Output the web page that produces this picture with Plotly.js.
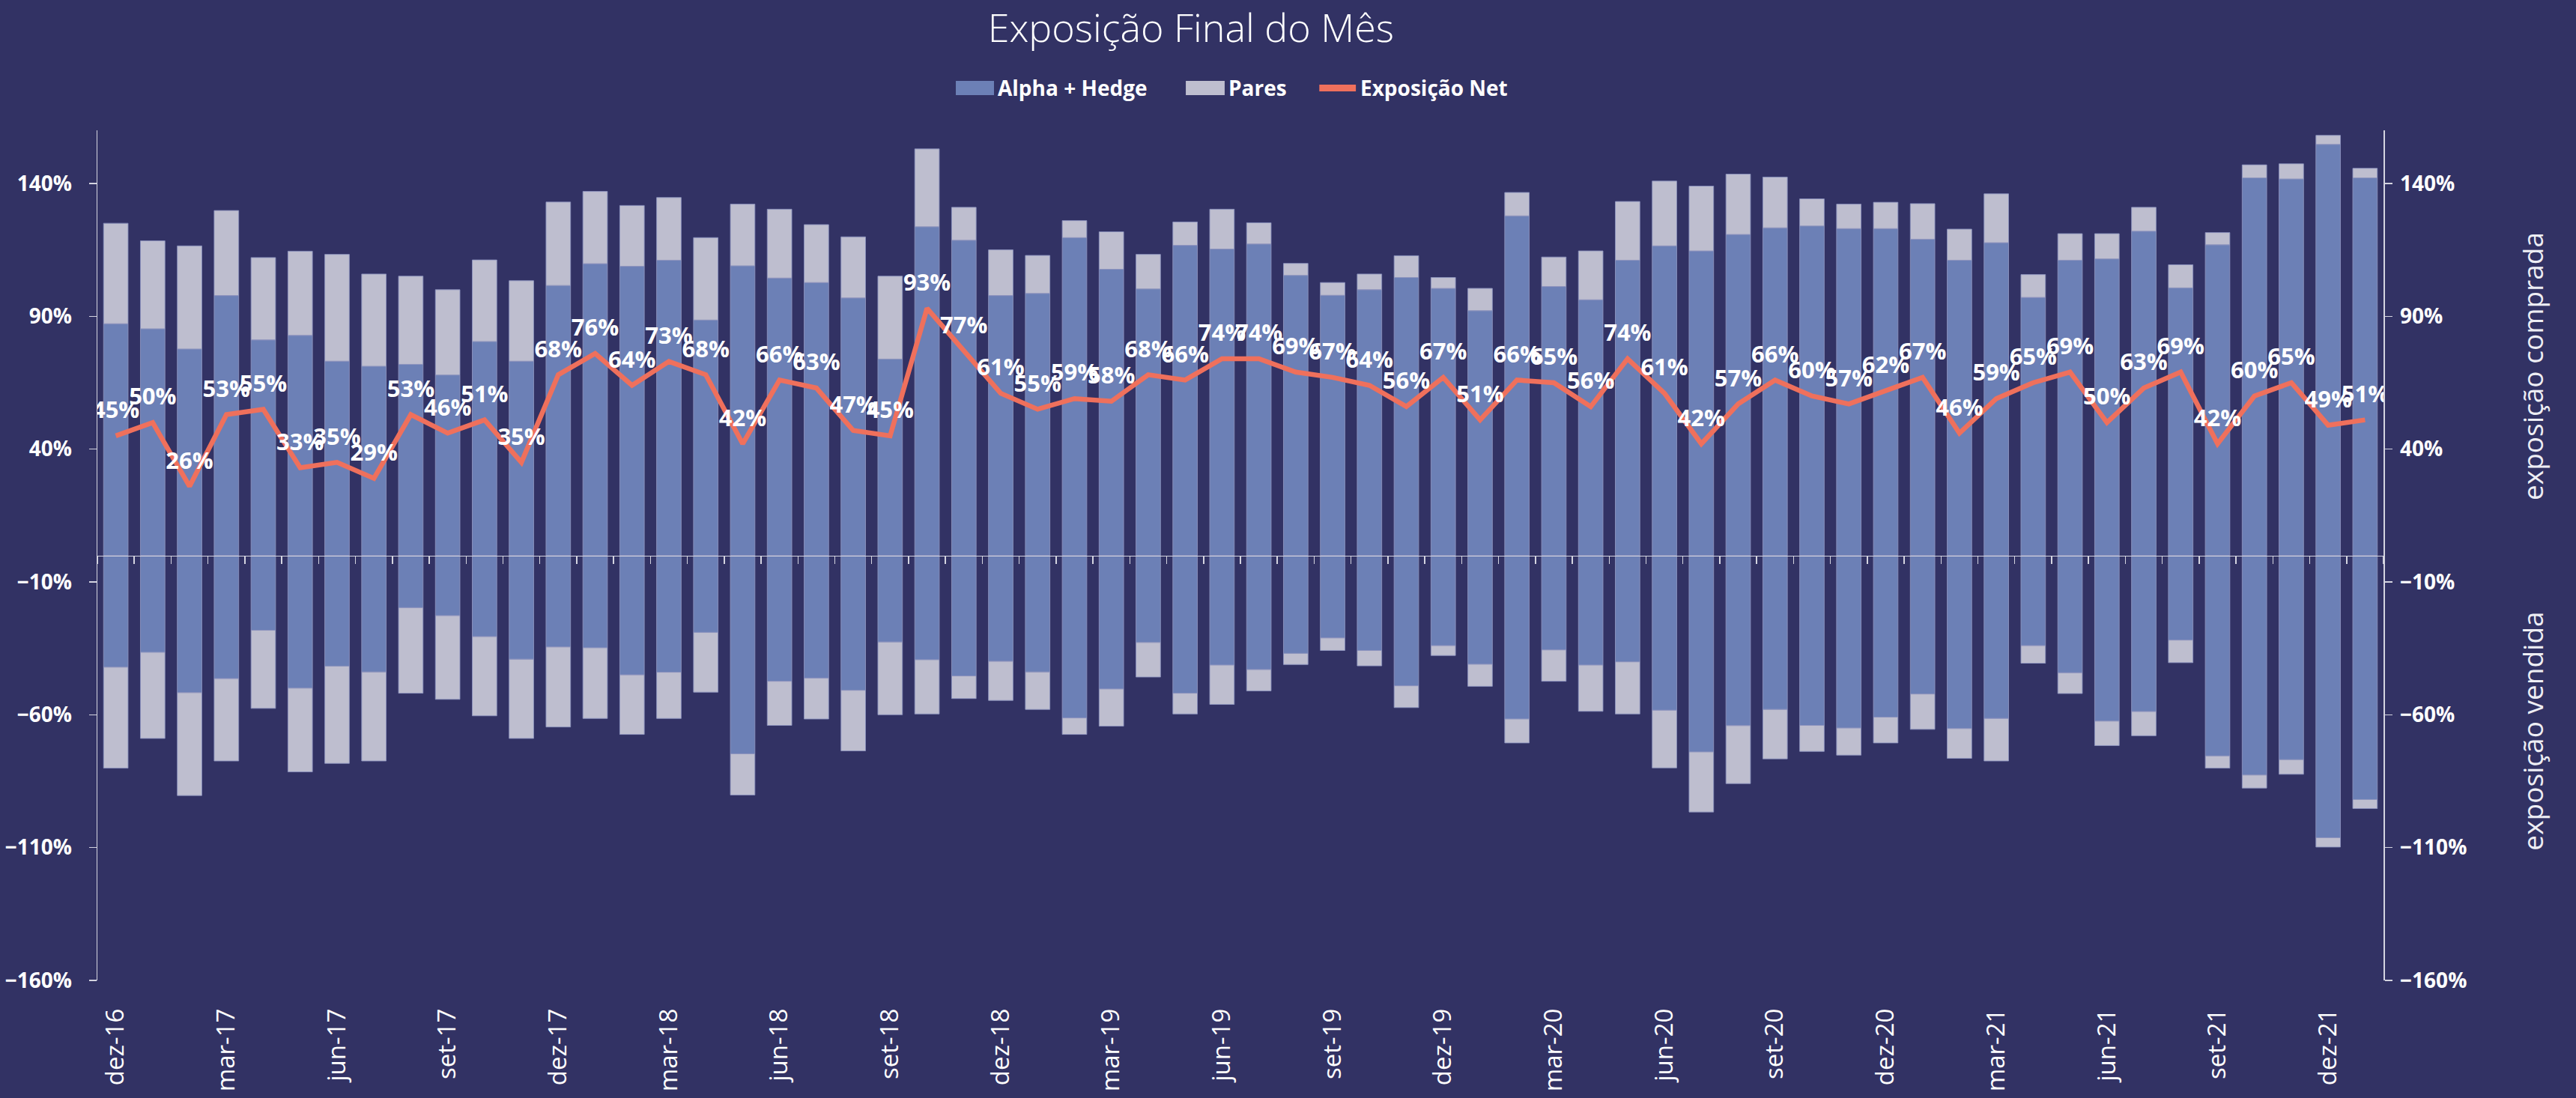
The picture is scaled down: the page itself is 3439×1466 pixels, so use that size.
<!DOCTYPE html>
<html><head><meta charset="utf-8">
<script src="https://cdn.plot.ly/plotly-3.0.1.min.js"></script>
<style>html,body{margin:0;padding:0;background:#323264;} #chart{width:3439px;height:1466px;}</style>
</head><body><div id="chart"></div>
<script>
const months = ['dez-16','jan-17','fev-17','mar-17','abr-17','mai-17','jun-17','jul-17','ago-17','set-17','out-17','nov-17',
  'dez-17','jan-18','fev-18','mar-18','abr-18','mai-18','jun-18','jul-18','ago-18','set-18','out-18','nov-18',
  'dez-18','jan-19','fev-19','mar-19','abr-19','mai-19','jun-19','jul-19','ago-19','set-19','out-19','nov-19',
  'dez-19','jan-20','fev-20','mar-20','abr-20','mai-20','jun-20','jul-20','ago-20','set-20','out-20','nov-20',
  'dez-20','jan-21','fev-21','mar-21','abr-21','mai-21','jun-21','jul-21','ago-21','set-21','out-21','nov-21',
  'dez-21','jan-22'];

const labelMonths = months.filter((m, i) => i % 3 === 0);

const alphaLong = [87.2,85.3,77.7,97.8,81.1,82.8,73.1,71.2,71.9,67.9,80.5,73.1,
  101.6,109.8,108.8,111.1,88.6,109.0,104.4,102.7,96.9,73.9,123.7,118.6,
  97.8,98.6,119.6,107.7,100.3,116.7,115.3,117.2,105.4,97.9,100.0,104.6,
  100.5,92.1,127.8,101.2,96.2,111.1,116.5,114.6,120.8,123.3,124.0,123.0,
  123.0,119.0,111.1,117.7,97.1,111.1,111.6,122.0,100.7,116.9,142.1,141.7,
  154.7,142.1];

const paresLong = [37.8,33.1,38.8,32.0,31.0,31.7,40.2,34.7,33.2,32.1,30.7,30.3,
  31.4,27.2,22.9,23.6,31.0,23.2,25.9,21.8,23.0,31.2,29.3,12.4,
  17.2,14.3,6.4,14.1,13.0,8.8,15.0,8.0,4.5,4.8,5.9,8.2,
  4.1,8.4,8.8,11.1,18.4,22.1,24.4,24.4,22.7,19.1,10.2,9.2,
  9.9,13.4,11.7,18.4,8.6,10.0,9.5,9.0,8.7,4.6,4.9,5.7,
  3.4,3.6];

const alphaShort = [-42.1,-36.5,-51.7,-46.4,-28.2,-50.0,-41.7,-43.9,-19.7,-22.7,-30.6,-39.1,
  -34.5,-34.8,-45.0,-44.0,-29.0,-74.7,-47.4,-46.2,-50.8,-32.6,-39.3,-45.4,
  -39.9,-43.9,-61.2,-50.3,-32.8,-51.9,-41.3,-43.0,-36.9,-31.1,-35.8,-49.1,
  -34.0,-41.0,-61.6,-35.6,-41.3,-40.1,-58.3,-74.0,-64.1,-58.0,-64.0,-65.0,
  -60.9,-52.2,-65.2,-61.4,-34.0,-44.2,-62.4,-58.8,-31.9,-75.5,-82.7,-76.9,
  -106.3,-91.9];

const paresShort = [-38.0,-32.4,-38.7,-31.0,-29.4,-31.5,-36.6,-33.5,-32.2,-31.5,-29.8,-29.8,
  -30.1,-26.6,-22.4,-17.4,-22.5,-15.5,-16.6,-15.4,-22.8,-27.4,-20.4,-8.5,
  -14.7,-14.1,-6.2,-14.0,-13.0,-7.8,-14.8,-8.0,-4.2,-4.7,-5.8,-8.2,
  -3.7,-8.3,-9.0,-11.8,-17.4,-19.6,-21.7,-22.6,-21.8,-18.6,-9.8,-10.2,
  -9.7,-13.3,-11.2,-16.0,-6.6,-7.8,-9.2,-9.1,-8.5,-4.6,-4.9,-5.5,
  -3.5,-3.4];

const net = [45,50,26,53,55,33,35,29,53,46,51,35,
  68,76,64,73,68,42,66,63,47,45,93,77,
  61,55,59,58,68,66,74,74,69,67,64,56,
  67,51,66,65,56,74,61,42,57,66,60,57,
  62,67,46,59,65,69,50,63,69,42,60,65,
  49,51];

const seriesNames = ['Alpha + Hedge', 'Pares', 'Exposição Net'];

const BG = '#323264';
const BLUE = '#6c80b6';
const GRAY = '#bebecf';
const CORAL = '#ef705c';
const AXIS = '#d4d4e0';
const FONT = 'Open Sans, Noto Sans, sans-serif';

const barLine = {color: 'rgba(140,146,190,0.9)', width: 1};

const traces = [
  {type: 'bar', name: seriesNames[0], x: months, y: alphaLong, legendgroup: 'a',
   marker: {color: BLUE, line: barLine}, hoverinfo: 'skip'},
  {type: 'bar', name: seriesNames[0], x: months, y: alphaShort, legendgroup: 'a',
   marker: {color: BLUE, line: barLine}, hoverinfo: 'skip'},
  {type: 'bar', name: seriesNames[1], x: months, y: paresLong, legendgroup: 'p',
   marker: {color: GRAY, line: barLine}, hoverinfo: 'skip'},
  {type: 'bar', name: seriesNames[1], x: months, y: paresShort, legendgroup: 'p',
   marker: {color: GRAY, line: barLine}, hoverinfo: 'skip'},
  {type: 'scatter', mode: 'lines', name: seriesNames[2], x: months, y: net,
   xaxis: 'x2', yaxis: 'y2', line: {color: CORAL, width: 6.5}, hoverinfo: 'skip'},
  {type: 'scatter', mode: 'markers+text', name: 'rótulos', x: months, y: net,
   xaxis: 'x2', yaxis: 'y2', hoverinfo: 'skip',
   text: net.map(v => v + '%'), textposition: 'top center',
   marker: {size: 24, opacity: 0},
   textfont: {family: FONT, size: 31, color: '#ffffff', weight: 700}}
];

function yAxis(extra) {
  return Object.assign({
    range: [-160, 160], tickmode: 'linear', tick0: -160, dtick: 50, ticksuffix: '%',
    showline: true, linecolor: AXIS, linewidth: 1.5, ticks: 'outside', ticklen: 10,
    tickcolor: AXIS, tickwidth: 1.5, showgrid: false, zeroline: false,
    tickfont: {family: FONT, size: 28, color: '#ffffff', weight: 700},
    fixedrange: true
  }, extra);
}

// custom legend (paper coordinates above the plot area)
const LEG_Y = 1.0498;
const legendShapes = [
  {type: 'rect', xref: 'paper', yref: 'paper', x0: 0.3755, x1: 0.3922, y0: 1.0414, y1: 1.0581,
   fillcolor: BLUE, line: {width: 0}},
  {type: 'rect', xref: 'paper', yref: 'paper', x0: 0.4761, x1: 0.4931, y0: 1.0414, y1: 1.0581,
   fillcolor: GRAY, line: {width: 0}},
  {type: 'line', xref: 'paper', yref: 'paper', x0: 0.5345, x1: 0.5505, y0: LEG_Y, y1: LEG_Y,
   line: {color: CORAL, width: 9}}
];
const legFont = {family: FONT, size: 28, color: '#ffffff', weight: 700};
const legendTexts = [
  {text: seriesNames[0], x: 0.3936},
  {text: seriesNames[1], x: 0.4945},
  {text: seriesNames[2], x: 0.5521}
].map(o => ({text: o.text, xref: 'paper', yref: 'paper', x: o.x, y: LEG_Y,
  xanchor: 'left', yanchor: 'middle', showarrow: false, font: legFont, borderpad: 0}));

const layout = {
  width: 3439, height: 1466,
  paper_bgcolor: BG, plot_bgcolor: BG,
  margin: {l: 130, r: 257, t: 174, b: 157},
  barmode: 'relative', bargap: 0.335,
  showlegend: false,
  title: {text: 'Exposição Final do Mês', xref: 'container', x: 0.4623, xanchor: 'center',
          yref: 'container', y: 0.974, yanchor: 'middle',
          font: {family: FONT, size: 52, color: '#ffffff', weight: 300}},
  xaxis: {type: 'category', categoryorder: 'array', categoryarray: months, range: [-0.5, 61.5],
          tickmode: 'array', tickvals: labelMonths, ticktext: labelMonths, tickangle: -90,
          tickfont: {family: FONT, size: 33, color: '#ffffff'},
          showline: false, ticks: '', showgrid: false, zeroline: false,
          ticklabelstandoff: 30, fixedrange: true},
  xaxis2: {type: 'category', categoryorder: 'array', categoryarray: months, overlaying: 'x',
           anchor: 'free', position: 0.5, range: [-0.5, 61.5],
           showline: true, linecolor: AXIS, linewidth: 1.5,
           ticks: 'outside', ticklen: 10, tickcolor: AXIS, tickwidth: 1.5,
           tickson: 'boundaries', tickmode: 'linear', tick0: 0, dtick: 1,
           showticklabels: false, showgrid: false, zeroline: false, fixedrange: true},
  yaxis: yAxis({ticklabelstandoff: 17}),
  yaxis2: yAxis({overlaying: 'y', side: 'right', anchor: 'x', ticklabelstandoff: 5}),
  shapes: legendShapes,
  annotations: legendTexts.concat([
    {text: 'exposição comprada', xref: 'paper', yref: 'paper', x: 1.0652, y: 0.7225,
     xanchor: 'center', yanchor: 'middle', textangle: -90, showarrow: false,
     font: {family: FONT, size: 37, color: '#eeeef4'}},
    {text: 'exposição vendida', xref: 'paper', yref: 'paper', x: 1.0652, y: 0.2937,
     xanchor: 'center', yanchor: 'middle', textangle: -90, showarrow: false,
     font: {family: FONT, size: 37, color: '#eeeef4'}}
  ])
};

Plotly.newPlot('chart', traces, layout, {displayModeBar: false, staticPlot: true});
</script>
</body></html>
